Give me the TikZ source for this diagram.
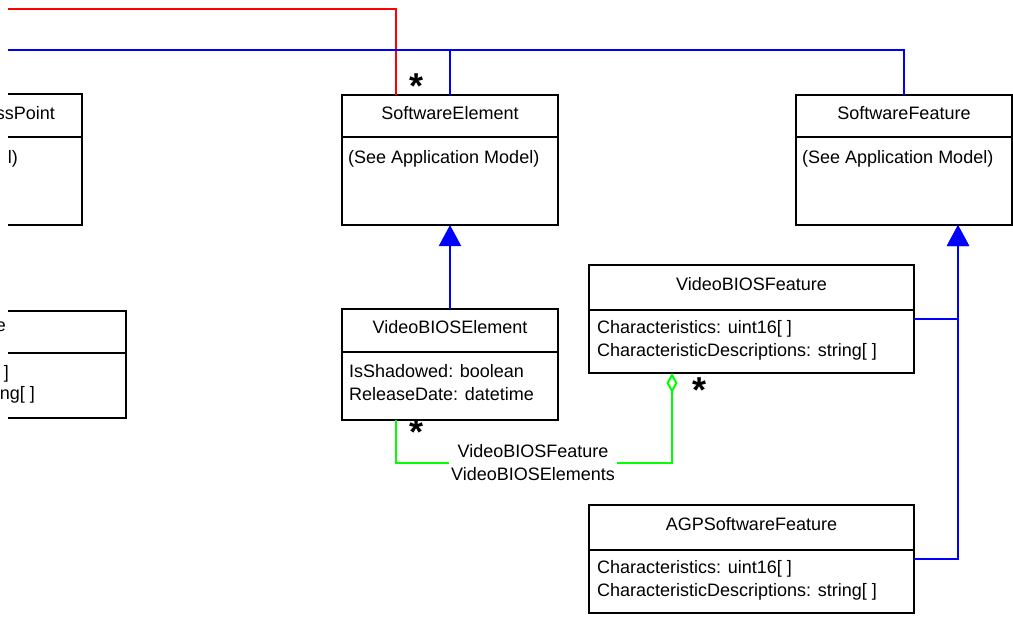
\documentclass[tikz,border=0pt]{standalone}
\usepackage{fontspec}
\setmainfont{Liberation Sans}
\usepackage{tikz}
\usetikzlibrary{arrows.meta, positioning, calc}

% multiplicity star, ink centred on the node
\newcommand{\mstar}{\raisebox{-0.44em}[0.15em][0.15em]{*}}

\begin{document}
\begin{tikzpicture}[x=1pt, y=-1pt,
    font=\fontsize{18}{23}\selectfont,
    head/.style={draw, line width=2pt, outer sep=0pt, inner sep=0pt,
        text height=13pt, text depth=7pt},
    body/.style={draw, line width=2pt, outer sep=0pt, inner sep=0pt},
    attr/.style={anchor=north west, align=left, inner sep=0pt},
    cut/.style={anchor=base east, inner sep=0pt},
    mult/.style={inner sep=0pt, font=\fontsize{36}{36}\selectfont\bfseries},
    wire/.style={line width=2pt},
    gen/.style={blue, line width=2pt, -{Triangle[length=21pt, width=22pt]}},
    aggr/.style={green, line width=2pt, -{Diamond[open, length=20pt, width=11pt]}},
    role/.style={align=center, inner sep=2pt}]

    \useasboundingbox (0,0) rectangle (1013,618);
    \clip (0,0) rectangle (1013,618);

    % classes cut off at the left border
    \draw[wire] (8,94) -| (82,225) -- (8,225);
    \draw[wire] (8,137) -- (82,137);
    \node[cut] (ap-name) at (55,119) {ssPoint};
    \node[cut] (ap-note) at (18,163) {l)};

    \draw[wire] (8,311) -| (126,418) -- (8,418);
    \draw[wire] (8,353) -- (126,353);
    \node[cut] (bx-name) at (6,331) {e};
    \node[cut] (bx-a1) at (9,378) {]};
    \node[cut] (bx-a2) at (35,399) {ng[ ]};

    % SoftwareElement
    \node[head, minimum width=216pt, minimum height=42pt] (se) at (450,116) {SoftwareElement};
    \node[body, minimum width=216pt, minimum height=88pt, below=0pt of se] (se-b) {};
    \node[attr] (se-a) at ([shift={(6,13)}]se-b.north west) {(See Application Model)};

    % SoftwareFeature
    \node[head, minimum width=216pt, minimum height=42pt] (sf) at (904,116) {SoftwareFeature};
    \node[body, minimum width=216pt, minimum height=88pt, below=0pt of sf] (sf-b) {};
    \node[attr] (sf-a) at ([shift={(6,13)}]sf-b.north west) {(See Application Model)};

    % VideoBIOSElement
    \node[head, minimum width=216pt, minimum height=43pt] (vbe) at (450,330.5) {VideoBIOSElement};
    \node[body, minimum width=216pt, minimum height=68pt, below=0pt of vbe] (vbe-b) {};
    \node[attr] (vbe-a) at ([shift={(7,12)}]vbe-b.north west)
        {IsShadowed: boolean\\ReleaseDate: datetime};

    % VideoBIOSFeature
    \node[head, minimum width=325pt, minimum height=45pt] (vbf) at (751.5,287.5) {VideoBIOSFeature};
    \node[body, minimum width=325pt, minimum height=63pt, below=0pt of vbf] (vbf-b) {};
    \node[attr] (vbf-a) at ([shift={(8,10)}]vbf-b.north west)
        {Characteristics: uint16[ ]\\CharacteristicDescriptions: string[ ]};

    % AGPSoftwareFeature
    \node[head, minimum width=325pt, minimum height=45pt] (agp) at (751.5,527.5) {AGPSoftwareFeature};
    \node[body, minimum width=325pt, minimum height=63pt, below=0pt of agp] (agp-b) {};
    \node[attr] (agp-a) at ([shift={(8,10)}]agp-b.north west)
        {Characteristics: uint16[ ]\\CharacteristicDescriptions: string[ ]};

    % lines coming in from the left
    \coordinate (redin) at (8,9);
    \coordinate (bluein) at (8,50);
    \draw[wire, red] (redin) -| ([xshift=-54pt]se.north);
    \draw[wire, blue] (bluein) -| (sf.north);
    \draw[wire, blue] (se.north) -- (se.north |- bluein);

    % inheritance
    \draw[gen] (vbe.north) -- (se-b.south);
    \draw[gen] ([yshift=-9pt]vbf-b.north east) -| ([xshift=54pt]sf-b.south);
    \draw[gen] ([yshift=-9pt]agp-b.north east) -| ([xshift=54pt]sf-b.south);

    % aggregation
    \node[role] (rolelbl) at (533,463) {VideoBIOSFeature\\VideoBIOSElements};
    \draw[aggr] ([xshift=-54pt]vbe-b.south) |- (rolelbl) -| ([xshift=83pt]vbf-b.south west);

    % multiplicities
    \node[mult] (m-se) at (417,83) {\mstar};
    \node[mult] (m-vbe) at (417,429) {\mstar};
    \node[mult] (m-vbf) at (699,387) {\mstar};
\end{tikzpicture}
\end{document}
